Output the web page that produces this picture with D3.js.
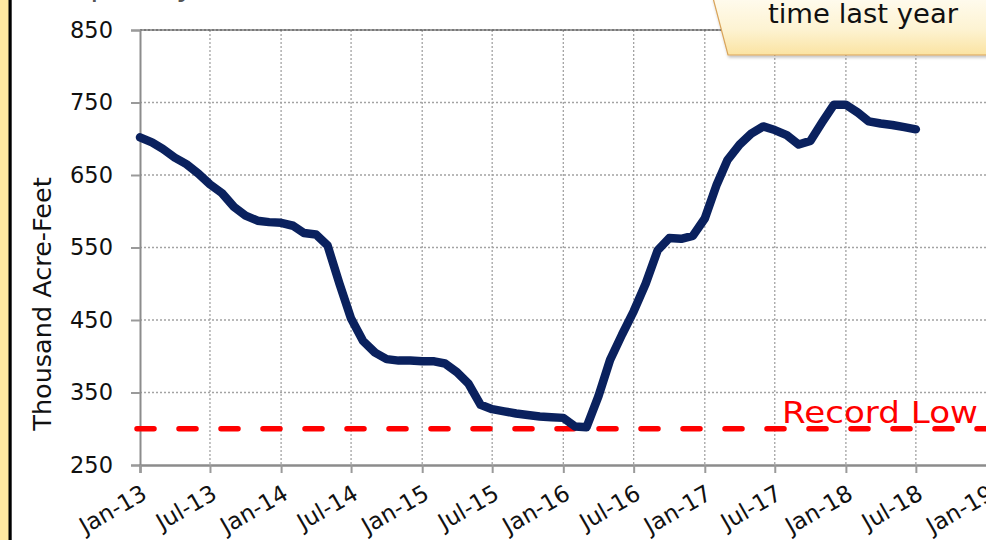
<!DOCTYPE html>
<html>
<head>
<meta charset="utf-8">
<script src="https://cdn.jsdelivr.net/npm/d3@7"></script>
<style>
  html, body { margin: 0; padding: 0; background: #ffffff; }
  svg { display: block; }
</style>
</head>
<body>
<svg id="chart" width="986" height="540"></svg>
<script>
// Monthly reservoir storage, thousand acre-feet, Jan 2013 – Jul 2018
const startMonth = new Date(2013, 0, 1);
const storage = [
  702, 695, 686, 674, 665, 652, 637, 625, 606, 594, 587, 585,
  584, 580, 570, 568, 553, 500, 452, 421, 405, 396, 394, 394,
  393, 393, 390, 378, 362, 333, 327, 324, 321, 319, 317, 316,
  315, 303, 302, 345, 395, 430, 462, 500, 546, 563, 562, 566,
  590, 637, 671, 692, 707, 717, 712, 705, 692, 697, 723, 747,
  747, 736, 724, 721, 719, 716, 713
];
const months = d3.timeMonth.range(startMonth, d3.timeMonth.offset(startMonth, storage.length));
const recordLow = 300;
const yTicks = [250, 350, 450, 550, 650, 750, 850];
const xDomain = [new Date(2013, 0, 1), new Date(2019, 0, 1)];
const yTitle = "Thousand Acre-Feet";
const recordLabel = "Record Low";
const calloutText = "time last year";

const svg = d3.select("#chart");
const W = 986, H = 540;
const plot = { left: 140, right: 987, top: 30, bottom: 465 };

const x = d3.scaleTime().domain(xDomain).range([plot.left, plot.right]);
const y = d3.scaleLinear().domain([250, 850]).range([plot.bottom, plot.top]);

// left page edge: yellow band and black rule
svg.append("rect").attr("x", 0).attr("y", 0).attr("width", 9).attr("height", H).attr("fill", "#ffe8a0");
svg.append("rect").attr("x", 8.5).attr("y", 0).attr("width", 3.2).attr("height", H).attr("fill", "#000");

// partially visible heading above the plot
svg.append("text")
  .attr("x", 46).attr("y", -4)
  .attr("font-family", "DejaVu Sans").attr("font-size", 30).attr("fill", "#555")
  .attr("textLength", 148).attr("lengthAdjust", "spacing")
  .text("Capacity");

const xTicks = d3.timeMonth.every(6).range(xDomain[0], d3.timeDay.offset(xDomain[1], 1));

// gridlines
const grid = svg.append("g").attr("stroke", "#a3a3a3").attr("stroke-width", 1.3).attr("stroke-dasharray", "2,2");
grid.selectAll("line.h").data(yTicks.filter(v => v > 250)).join("line")
  .attr("x1", plot.left).attr("x2", W).attr("y1", d => y(d)).attr("y2", d => y(d));
grid.selectAll("line.v").data(xTicks.slice(1)).join("line")
  .attr("x1", d => x(d)).attr("x2", d => x(d)).attr("y1", plot.top).attr("y2", plot.bottom);

// top frame line
svg.append("line").attr("x1", plot.left).attr("x2", W).attr("y1", plot.top).attr("y2", plot.top)
  .attr("stroke", "#3a3a3a").attr("stroke-width", 1.2);

// y axis
const yAxis = svg.append("g").attr("transform", `translate(${plot.left},0)`)
  .call(d3.axisLeft(y).tickValues(yTicks).tickSize(9).tickPadding(18));
yAxis.attr("font-size", null).attr("font-family", null);
yAxis.select(".domain").attr("stroke", "#8c8c8c").attr("stroke-width", 2);
yAxis.selectAll(".tick line").attr("stroke", "#9a9a9a").attr("stroke-width", 2);
yAxis.selectAll(".tick text")
  .style("font-family", "DejaVu Sans").style("font-size", "22.5px").attr("fill", "#111");

// x axis
const xAxis = svg.append("g").attr("transform", `translate(0,${plot.bottom})`)
  .call(d3.axisBottom(x).tickValues(xTicks).tickSize(8).tickFormat(d3.timeFormat("%b-%y")));
xAxis.attr("font-size", null).attr("font-family", null);
xAxis.select(".domain").attr("stroke", "#8c8c8c").attr("stroke-width", 2.4);
xAxis.selectAll(".tick line").attr("stroke", "#9a9a9a").attr("stroke-width", 2);
xAxis.selectAll(".tick text")
  .style("font-family", "DejaVu Sans").style("font-size", "23px").attr("fill", "#111")
  .attr("text-anchor", "end").attr("dy", 0).attr("y", 0)
  .attr("transform", "translate(8,33) rotate(-30)");

// y axis title
svg.append("text")
  .attr("transform", `translate(51,${304}) rotate(-90)`)
  .attr("text-anchor", "middle")
  .style("font-family", "DejaVu Sans").style("font-size", "25.5px").attr("fill", "#111")
  .text(yTitle);

// record low reference
svg.append("line")
  .attr("x1", plot.left - 3).attr("x2", W).attr("y1", y(recordLow)).attr("y2", y(recordLow))
  .attr("stroke", "#ff0000").attr("stroke-width", 5.5).attr("stroke-linecap", "round")
  .attr("stroke-dasharray", "17,25");

svg.append("text")
  .attr("x", 782).attr("y", 423)
  .style("font-family", "DejaVu Sans").style("font-size", "31px").attr("fill", "#ff0000")
  .attr("textLength", 196).attr("lengthAdjust", "spacingAndGlyphs")
  .text(recordLabel);

// storage series
const line = d3.line().x((d, i) => x(months[i])).y(d => y(d));
svg.append("path")
  .datum(storage)
  .attr("d", line)
  .attr("fill", "none")
  .attr("stroke", "#0a215e")
  .attr("stroke-width", 8.5)
  .attr("stroke-linejoin", "round")
  .attr("stroke-linecap", "round");

// callout box in the upper right
const defs = svg.append("defs");
const grad = defs.append("linearGradient").attr("id", "calloutFill")
  .attr("x1", 0).attr("y1", 0).attr("x2", 0).attr("y2", 1);
grad.append("stop").attr("offset", "0%").attr("stop-color", "#fffbee");
grad.append("stop").attr("offset", "55%").attr("stop-color", "#fdf3d2");
grad.append("stop").attr("offset", "100%").attr("stop-color", "#fbe3a2");
const shadow = defs.append("filter").attr("id", "calloutShadow").attr("x", "-10%").attr("y", "-10%").attr("width", "130%").attr("height", "150%");
shadow.append("feDropShadow").attr("dx", 1).attr("dy", 2).attr("stdDeviation", 1.5).attr("flood-color", "#000").attr("flood-opacity", 0.25);

svg.append("path")
  .attr("d", "M713,-2 L990,-2 L990,55 L728,55 Z")
  .attr("fill", "url(#calloutFill)")
  .attr("stroke", "#d9a45a").attr("stroke-width", 1.2)
  .attr("filter", "url(#calloutShadow)");

svg.append("text")
  .attr("x", 768).attr("y", 23)
  .style("font-family", "DejaVu Sans").style("font-size", "26px").attr("fill", "#111")
  .attr("textLength", 190).attr("lengthAdjust", "spacingAndGlyphs")
  .text(calloutText);
</script>
</body>
</html>
